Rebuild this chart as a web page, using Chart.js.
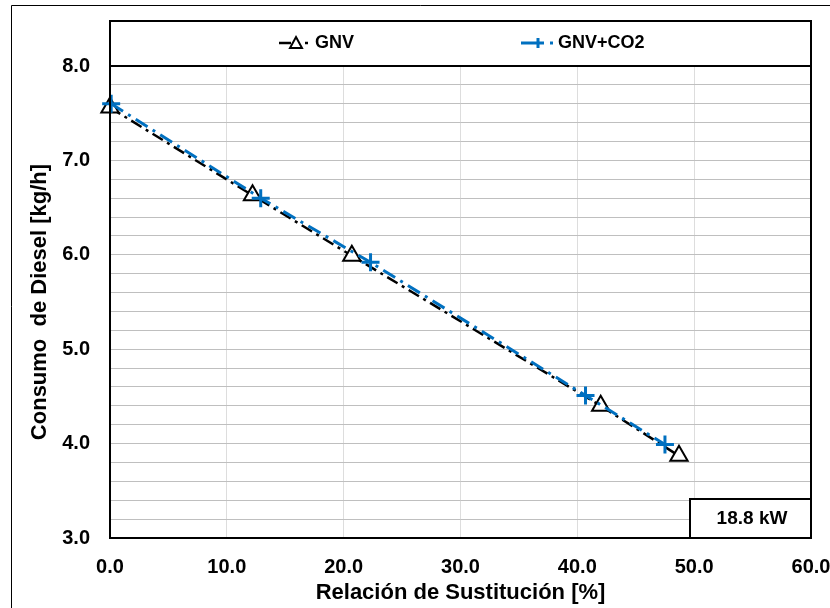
<!DOCTYPE html>
<html>
<head>
<meta charset="utf-8">
<script src="https://cdn.jsdelivr.net/npm/chart.js@4.4.1/dist/chart.umd.min.js"></script>
<style>
  html, body { margin: 0; padding: 0; background: #fff; }
  canvas { display: block; }
</style>
</head>
<body>
<canvas id="myChart" width="830" height="608"></canvas>
<script>
// data
const seriesNames = ["GNV", "GNV+CO2"];
const gnvX = [0.0, 12.2, 20.7, 42.0, 48.7];
const gnvY = [7.56, 6.63, 5.99, 4.40, 3.87];
const co2X = [0.1, 12.9, 22.3, 40.7, 47.5];
const co2Y = [7.60, 6.60, 5.92, 4.51, 3.99];
const xTickLabels = ["0.0", "10.0", "20.0", "30.0", "40.0", "50.0", "60.0"];
const yTickLabels = ["3.0", "4.0", "5.0", "6.0", "7.0", "8.0"];
const powerLabel = "18.8 kW";

const FONT = "'Liberation Sans', Arial, sans-serif";
const BLUE = "#0070C0";

function toPoints(xs, ys) {
  return xs.map((x, i) => ({ x: x, y: ys[i] }));
}

// frame, legend box and the "18.8 kW" label
const decorations = {
  id: "decorations",
  beforeDraw(chart) {
    const c = chart.ctx;
    c.save();
    c.fillStyle = "#fff";
    c.fillRect(0, 0, chart.width, chart.height);
    c.strokeStyle = "#000";
    c.lineWidth = 1;
    c.beginPath();
    c.moveTo(11.5, chart.height);
    c.lineTo(11.5, 5.5);
    c.lineTo(chart.width, 5.5);
    c.stroke();
    c.restore();
  },
  afterDraw(chart) {
    const c = chart.ctx;
    const a = chart.chartArea;
    c.save();
    c.strokeStyle = "#000";
    c.lineWidth = 2;
    c.strokeRect(a.left, a.top, a.right - a.left, a.bottom - a.top);

    // legend box
    const top = 21;
    c.strokeRect(a.left, top, a.right - a.left, a.top - top);
    const ly = 43;
    c.font = "bold 18px " + FONT;
    c.textBaseline = "middle";

    // GNV sample
    c.lineWidth = 2.5;
    c.strokeStyle = "#000";
    c.beginPath(); c.moveTo(279, ly); c.lineTo(291, ly); c.stroke();
    c.beginPath(); c.moveTo(305, ly); c.lineTo(308, ly); c.stroke();
    c.lineWidth = 2;
    c.fillStyle = "#fff";
    c.beginPath();
    c.moveTo(296, ly - 6); c.lineTo(302, ly + 5); c.lineTo(290, ly + 5); c.closePath();
    c.fill(); c.stroke();
    c.fillStyle = "#000";
    c.fillText(seriesNames[0], 315, ly);

    // GNV+CO2 sample
    c.strokeStyle = BLUE;
    c.lineWidth = 3;
    c.beginPath(); c.moveTo(521, ly); c.lineTo(544, ly); c.moveTo(538, ly - 5); c.lineTo(538, ly + 5); c.stroke();
    c.beginPath(); c.moveTo(550, ly); c.lineTo(553, ly); c.stroke();
    c.fillStyle = "#000";
    c.fillText(seriesNames[1], 558, ly);

    // power box
    c.strokeStyle = "#000";
    c.lineWidth = 2;
    c.fillStyle = "#fff";
    c.fillRect(690, 499, a.right - 690, a.bottom - 499);
    c.strokeRect(690, 499, a.right - 690, a.bottom - 499);
    c.fillStyle = "#000";
    c.font = "bold 19px " + FONT;
    c.textAlign = "center";
    c.fillText(powerLabel, 752, 519);
    c.restore();
  }
};

const ctx = document.getElementById("myChart");

new Chart(ctx, {
  type: "scatter",
  data: {
    datasets: [
      {
        label: seriesNames[0],
        data: toPoints(gnvX, gnvY),
        showLine: true,
        borderColor: "#000",
        borderWidth: 2.5,
        borderDash: [12, 5, 3, 5],
        pointStyle: "triangle",
        pointRadius: 10,
        pointBorderWidth: 2,
        pointBorderColor: "#000",
        pointBackgroundColor: "#fff",
        clip: false,
        order: 1,
      },
      {
        label: seriesNames[1],
        data: toPoints(co2X, co2Y),
        showLine: true,
        borderColor: BLUE,
        borderWidth: 3,
        borderDash: [14, 6, 3, 6],
        pointStyle: "cross",
        pointRadius: 9,
        pointBorderWidth: 3,
        pointBorderColor: BLUE,
        clip: false,
        order: 0,
      },
    ],
  },
  options: {
    responsive: false,
    animation: false,
    devicePixelRatio: 1,
    layout: { padding: { top: 66, right: 19, left: 0, bottom: 0 } },
    plugins: {
      legend: { display: false },
      tooltip: { enabled: false },
    },
    scales: {
      x: {
        type: "linear",
        min: 0,
        max: 60,
        afterFit: (s) => { s.height = 70; s.paddingLeft = 0; s.paddingRight = 0; },
        border: { display: false },
        grid: { color: "#dddddd", drawTicks: false },
        ticks: {
          stepSize: 10,
          padding: 17,
          color: "#000",
          font: { family: FONT, size: 20, weight: "bold" },
          callback: (v) => xTickLabels[Math.round(v / 10)],
        },
        title: {
          display: true,
          text: "Relación de Sustitución [%]",
          color: "#000",
          font: { family: FONT, size: 22, weight: "bold" },
          padding: { top: 2, bottom: 2 },
        },
      },
      y: {
        type: "linear",
        min: 3,
        max: 8,
        afterFit: (s) => { s.width = 110; },
        border: { display: false },
        grid: { color: "#bfbfbf", drawTicks: false },
        ticks: {
          stepSize: 0.2,
          autoSkip: false,
          padding: 20,
          color: "#000",
          font: { family: FONT, size: 20, weight: "bold" },
          callback: (v) => {
            const r = Math.round(v);
            return Math.abs(v - r) < 1e-6 ? yTickLabels[r - 3] : "";
          },
        },
        title: {
          display: true,
          text: "Consumo  de Diesel [kg/h]",
          color: "#000",
          font: { family: FONT, size: 22, weight: "bold" },
          padding: { top: 27, bottom: 0 },
        },
      },
    },
  },
  plugins: [decorations],
});
</script>
</body>
</html>
